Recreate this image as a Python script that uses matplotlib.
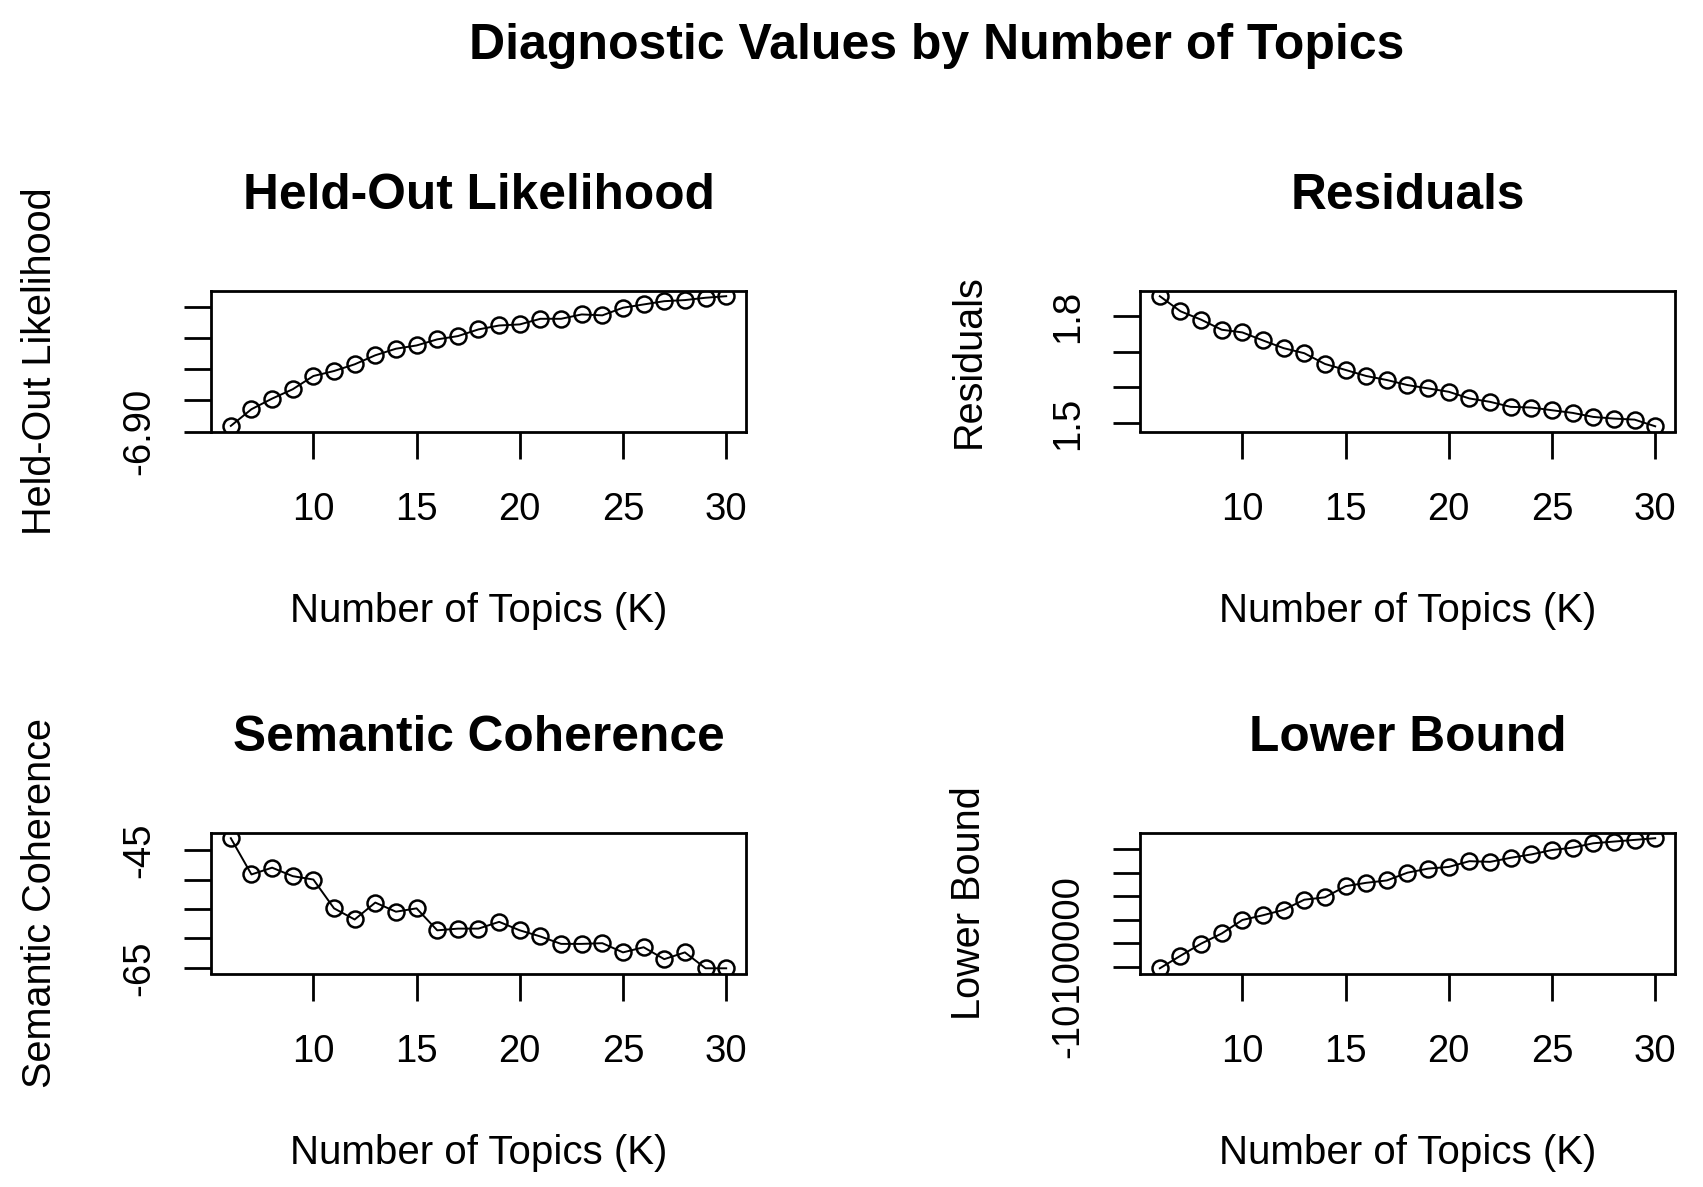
import matplotlib
matplotlib.use("Agg")
import matplotlib.pyplot as plt
import numpy as np

plt.rcParams['font.family'] = ['Liberation Sans', 'DejaVu Sans']

# ---------------- data ----------------
K = list(range(6, 31))

heldout = [-6.8964, -6.8857, -6.8789, -6.8729, -6.8644, -6.8612, -6.8569, -6.8511,
           -6.8469, -6.8448, -6.8409, -6.8388, -6.8345, -6.8320, -6.8313, -6.8277,
           -6.8277, -6.8249, -6.8255, -6.8206, -6.8185, -6.8164, -6.8157, -6.8142,
           -6.8132]

residuals = [1.8566, 1.8142, 1.7906, 1.7623, 1.7547, 1.7321, 1.7104, 1.6962,
             1.6660, 1.6491, 1.6321, 1.6208, 1.6066, 1.5972, 1.5877, 1.5689,
             1.5594, 1.5453, 1.5434, 1.5358, 1.5283, 1.5170, 1.5123, 1.5094,
             1.4906]

semcoh = [-42.99, -49.14, -47.99, -49.43, -50.00, -54.89, -56.78, -53.91,
          -55.46, -54.89, -58.62, -58.33, -58.33, -57.18, -58.62, -59.66,
          -60.92, -60.92, -60.80, -62.36, -61.49, -63.51, -62.36, -65.06,
          -65.06]

lbound = [-10101441, -10090778, -10080403, -10071758, -10060231, -10056196,
          -10051585, -10042939, -10040922, -10031412, -10028530, -10026513,
          -10019885, -10016427, -10014986, -10010087, -10010663, -10007205,
          -10004323, -10000576, -9998559, -9994813, -9993372, -9991931,
          -9990490]

xticks = [10, 15, 20, 25, 30]
xticklabels = ['10', '15', '20', '25', '30']

heldout_ticks = [-6.90, -6.88, -6.86, -6.84, -6.82]
heldout_labels = ['-6.90', '', '', '', '']
resid_ticks = [1.5, 1.6, 1.7, 1.8]
resid_labels = ['1.5', '', '', '1.8']
semcoh_ticks = [-65, -60, -55, -50, -45]
semcoh_labels = ['-65', '', '', '', '-45']
lbound_ticks = [-10100000, -10080000, -10060000, -10040000, -10020000, -10000000]
lbound_labels = ['-10100000', '', '', '', '', '']

main_title = 'Diagnostic Values by Number of Topics'
panel_titles = ['Held-Out Likelihood', 'Residuals', 'Semantic Coherence', 'Lower Bound']
ylabels = ['Held-Out Likelihood', 'Residuals', 'Semantic Coherence', 'Lower Bound']
xlabel = 'Number of Topics (K)'

# ---------------- layout ----------------
W, H = 1703, 1187
fig = plt.figure(figsize=(W / 100, H / 100), dpi=100)

box_w, box_h = 535, 140.5
lefts = [211, 1140, 211, 1140]
tops = [291, 291, 833, 833]

series = [heldout, residuals, semcoh, lbound]
ticks = [heldout_ticks, resid_ticks, semcoh_ticks, lbound_ticks]
tlabels = [heldout_labels, resid_labels, semcoh_labels, lbound_labels]

px2pt = 72 / 100

for i in range(4):
    ax = fig.add_axes([lefts[i] / W, (H - tops[i] - box_h) / H, box_w / W, box_h / H])
    y = np.asarray(series[i], dtype=float)
    ax.plot(K, y, color='black', lw=1.4, marker='o', ms=11.5, mfc='none',
            mec='black', mew=1.8)
    # R-style 4% axis extension
    xr = max(K) - min(K)
    ax.set_xlim(min(K) - 0.04 * xr, max(K) + 0.04 * xr)
    yr = y.max() - y.min()
    ax.set_ylim(y.min() - 0.04 * yr, y.max() + 0.04 * yr)

    ax.set_xticks(xticks)
    ax.set_xticklabels(xticklabels)
    ax.set_yticks(ticks[i])
    ax.set_yticklabels(tlabels[i])

    for s in ax.spines.values():
        s.set_linewidth(2.0)
    ax.tick_params(axis='both', direction='out', length=27 * px2pt, width=2.0,
                   colors='black', labelsize=27.5)
    ax.tick_params(axis='x', pad=52 * px2pt)
    ax.tick_params(axis='y', pad=45 * px2pt)
    for lab in ax.get_xticklabels():
        lab.set_va('center')
    for lab in ax.get_yticklabels():
        lab.set_rotation(90)
        lab.set_ha('center')
        lab.set_va('center')

    ax.set_xlabel(xlabel, fontsize=29, va='center')
    ax.xaxis.set_label_coords(0.5, -179 / box_h)
    ax.set_ylabel(ylabels[i], fontsize=28.5, va='center')
    ax.yaxis.set_label_coords(-171 / box_w, 0.5)

    ax.set_title(panel_titles[i], fontsize=35.7, fontweight='bold',
                 y=1 + 95 / box_h, va='center', pad=0)

fig.text(937 / W, 1 - 45.6 / H, main_title, fontsize=36, fontweight='bold',
         ha='center', va='center')

fig.savefig('out.png', dpi=100, facecolor='white')
